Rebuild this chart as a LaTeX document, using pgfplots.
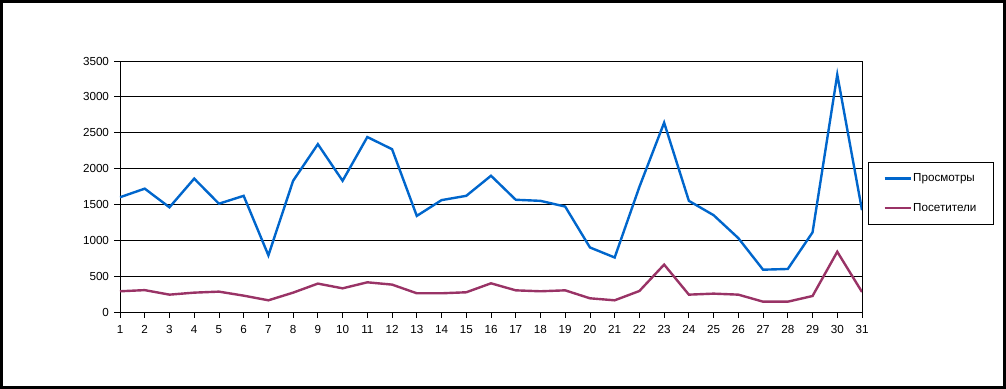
\documentclass[border=0pt]{standalone}
\usepackage{fontspec}
\setmainfont{Liberation Sans}
\usepackage{pgfplots}
\pgfplotsset{compat=1.18}
\definecolor{viewsblue}{RGB}{0,102,204}
\definecolor{visitred}{RGB}{153,51,102}
\begin{document}
\begin{tikzpicture}
\begin{axis}[
  scale only axis, width=742bp, height=251bp,
  xmin=1, xmax=31, ymin=0, ymax=3500,
  xtick={1,...,31}, ytick={0,500,...,3500},
  ymajorgrids, grid style={black, line width=0.8bp},
  axis line style={black, line width=0.8bp},
  tick align=outside, major tick length=5.5bp,
  tick style={black, line width=0.8bp},
  xtick pos=bottom, ytick pos=left,
  /pgf/number format/assume math mode=true,
  /pgf/number format/1000 sep={},
  tick label style={font=\fontsize{11.7}{13}\selectfont},
  xticklabel style={yshift=-4bp},
  yticklabel style={xshift=-2bp},
  legend style={at={(1.008,0.598)}, anchor=north west, draw=black, line width=0.8bp,
    font=\fontsize{11.7}{13}\selectfont, inner xsep=15bp, inner ysep=10bp, row sep=17bp,
    legend cell align=left,
    nodes={inner sep=1.5bp}},
  legend image code/.code={\draw[#1] (0,0) -- (26bp,0);},
]
\coordinate (O) at (rel axis cs:0,0);
\addplot[viewsblue, line width=2.4bp] coordinates {
(1,1600)(2,1720)(3,1460)(4,1860)(5,1510)(6,1620)(7,790)(8,1830)(9,2340)(10,1830)
(11,2440)(12,2270)(13,1340)(14,1560)(15,1620)(16,1900)(17,1565)(18,1550)(19,1470)(20,900)
(21,760)(22,1745)(23,2640)(24,1550)(25,1350)(26,1030)(27,590)(28,600)(29,1110)(30,3310)(31,1420)};
\addlegendentry{Просмотры}
\addplot[visitred, line width=2.4bp] coordinates {
(1,289)(2,305)(3,242)(4,270)(5,284)(6,228)(7,163)(8,270)(9,396)(10,330)
(11,414)(12,382)(13,261)(14,261)(15,275)(16,400)(17,302)(18,289)(19,302)(20,191)
(21,163)(22,293)(23,661)(24,242)(25,256)(26,242)(27,144)(28,144)(29,223)(30,840)(31,279)};
\addlegendentry{Посетители}
\end{axis}
\draw[line width=3bp] ([shift={(-118.5bp,-75.5bp)}]O) rectangle ([shift={(884.5bp,310.5bp)}]O);
\end{tikzpicture}
\end{document}
